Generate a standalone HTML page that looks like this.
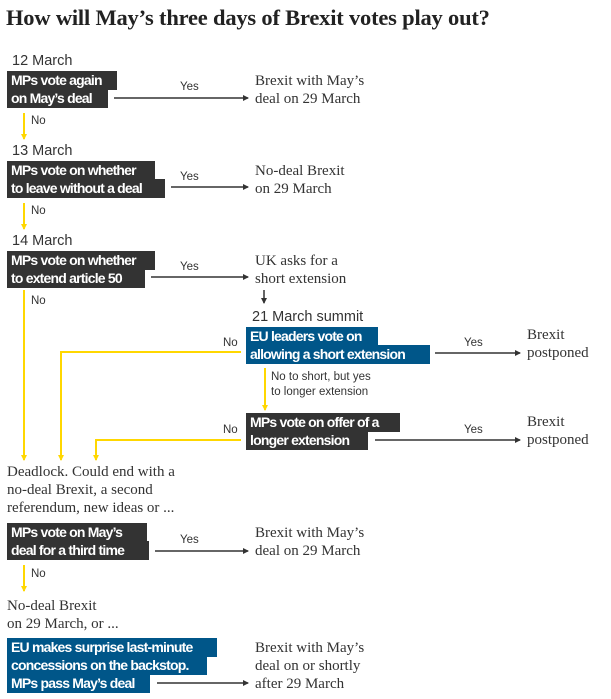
<!DOCTYPE html>
<html><head><meta charset="utf-8"><style>
body{margin:0;width:611px;height:699px;background:#fff;position:relative;overflow:hidden;font-family:"Liberation Sans",sans-serif;color:#333}
.a{position:absolute;white-space:nowrap}
.t{font-family:"Liberation Serif",serif;font-weight:bold;font-size:22.5px;color:#222;letter-spacing:-0.2px}
.d{font-size:14.5px;color:#333}
.b{height:19px;line-height:18px;color:#fff;font-weight:bold;font-size:14px;letter-spacing:-0.8px;padding-left:4px;box-sizing:border-box;overflow:hidden}
.k{background:#333}
.u{background:#005689}
.s{font-family:"Liberation Serif",serif;font-size:15px;line-height:18px;color:#333}
.y{font-size:11.5px;color:#333}
</style></head><body>
<div class="a t" style="left:6px;top:5px">How will May’s three days of Brexit votes play out?</div>

<div class="a d" style="left:12px;top:53px">12 March</div>
<div class="a b k" style="left:7px;top:71px;width:110px">MPs vote again</div>
<div class="a b k" style="left:7px;top:89px;width:101px">on May’s deal</div>
<div class="a y" style="left:180px;top:81px">Yes</div>
<div class="a s" style="left:255px;top:72px">Brexit with May’s<br>deal on 29 March</div>
<div class="a y" style="left:31px;top:115px">No</div>

<div class="a d" style="left:12px;top:143px">13 March</div>
<div class="a b k" style="left:7px;top:161px;width:148px">MPs vote on whether</div>
<div class="a b k" style="left:7px;top:179px;width:158px">to leave without a deal</div>
<div class="a y" style="left:180px;top:171px">Yes</div>
<div class="a s" style="left:255px;top:162px">No-deal Brexit<br>on 29 March</div>
<div class="a y" style="left:31px;top:205px">No</div>

<div class="a d" style="left:12px;top:233px">14 March</div>
<div class="a b k" style="left:7px;top:251px;width:148px">MPs vote on whether</div>
<div class="a b k" style="left:7px;top:269px;width:138px">to extend article 50</div>
<div class="a y" style="left:180px;top:261px">Yes</div>
<div class="a s" style="left:255px;top:252px">UK asks for a<br>short extension</div>
<div class="a y" style="left:31px;top:295px">No</div>

<div class="a d" style="left:252px;top:309px">21 March summit</div>
<div class="a b u" style="left:246px;top:327px;width:132px">EU leaders vote on</div>
<div class="a b u" style="left:246px;top:345px;width:184px">allowing a short extension</div>
<div class="a y" style="left:223px;top:337px">No</div>
<div class="a y" style="left:464px;top:337px">Yes</div>
<div class="a s" style="left:527px;top:326px">Brexit<br>postponed</div>
<div class="a y" style="left:271px;top:370px;line-height:15px">No to short, but yes<br>to longer extension</div>

<div class="a b k" style="left:246px;top:413px;width:154px">MPs vote on offer of a</div>
<div class="a b k" style="left:246px;top:431px;width:122px">longer extension</div>
<div class="a y" style="left:223px;top:424px">No</div>
<div class="a y" style="left:464px;top:424px">Yes</div>
<div class="a s" style="left:527px;top:413px">Brexit<br>postponed</div>

<div class="a s" style="left:7px;top:463px">Deadlock. Could end with a<br>no-deal Brexit, a second<br>referendum, new ideas or ...</div>
<div class="a b k" style="left:7px;top:523px;width:140px">MPs vote on May’s</div>
<div class="a b k" style="left:7px;top:541px;width:142px">deal for a third time</div>
<div class="a y" style="left:180px;top:534px">Yes</div>
<div class="a s" style="left:255px;top:524px">Brexit with May’s<br>deal on 29 March</div>
<div class="a y" style="left:31px;top:568px">No</div>

<div class="a s" style="left:7px;top:597px">No-deal Brexit<br>on 29 March, or ...</div>
<div class="a b u" style="left:7px;top:638px;width:210px">EU makes surprise last-minute</div>
<div class="a b u" style="left:7px;top:656px;width:200px">concessions on the backstop.</div>
<div class="a b u" style="left:7px;top:674px;width:143px">MPs pass May’s deal</div>
<div class="a s" style="left:255px;top:639px">Brexit with May’s<br>deal on or shortly<br>after 29 March</div>

<svg class="a" style="left:0;top:0" width="611" height="699">
<defs>
<marker id="ak" markerWidth="6" markerHeight="6" refX="5" refY="3" orient="auto" markerUnits="userSpaceOnUse"><path d="M0,0L6,3L0,6z" fill="#333"/></marker>
<marker id="ay" markerWidth="6" markerHeight="6" refX="5" refY="3" orient="auto" markerUnits="userSpaceOnUse"><path d="M0,0L6,3L0,6z" fill="#ffd700"/></marker>
</defs>
<g stroke="#333" stroke-width="1.5" fill="none" marker-end="url(#ak)">
<line x1="114" y1="98" x2="248" y2="98"/>
<line x1="171" y1="187" x2="248" y2="187"/>
<line x1="151" y1="277" x2="248" y2="277"/>
<line x1="264" y1="290" x2="264" y2="303"/>
<line x1="435" y1="353" x2="520" y2="353"/>
<line x1="375" y1="440" x2="520" y2="440"/>
<line x1="155" y1="551" x2="248" y2="551"/>
<line x1="157" y1="683" x2="248" y2="683"/>
</g>
<g stroke="#ffd700" stroke-width="2" fill="none" marker-end="url(#ay)">
<line x1="24" y1="113" x2="24" y2="139"/>
<line x1="24" y1="203" x2="24" y2="229"/>
<line x1="24" y1="290" x2="24" y2="460"/>
<polyline points="241,352 61,352 61,460"/>
<polyline points="241,440 96,440 96,460"/>
<line x1="265" y1="368" x2="265" y2="410"/>
<line x1="24" y1="565" x2="24" y2="591"/>
</g>
</svg>
</body></html>
